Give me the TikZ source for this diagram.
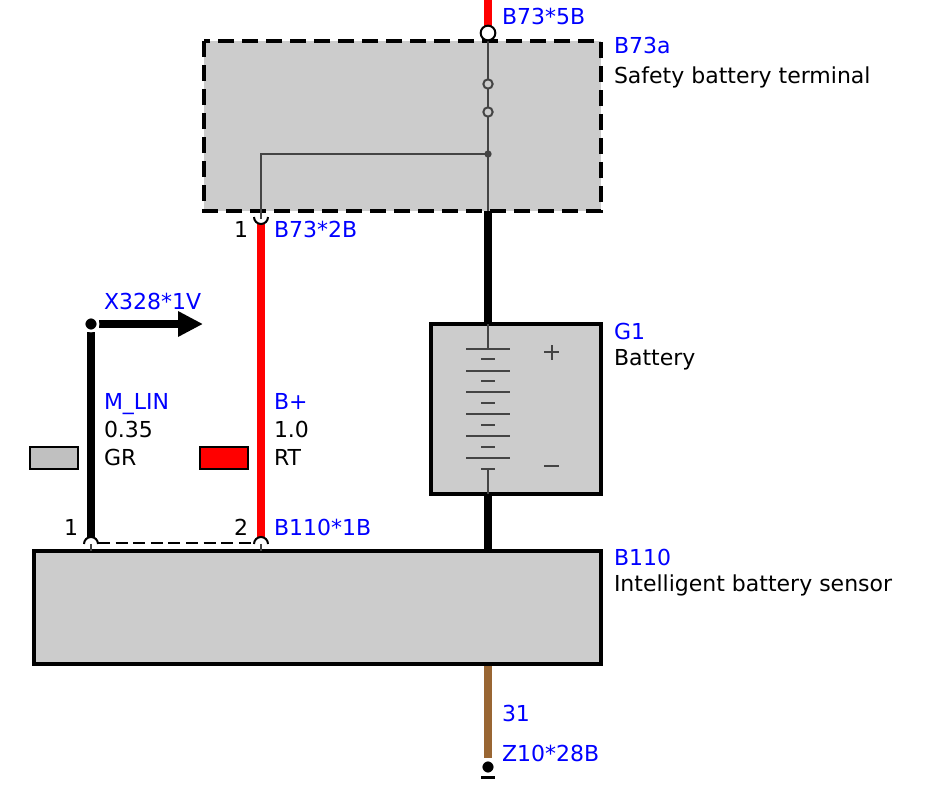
\documentclass[tikz,border=0pt]{standalone}
\usepackage{fontspec}
\setmainfont{DejaVu Sans}
\usetikzlibrary{arrows.meta}
\definecolor{boxgray}{HTML}{CCCCCC}
\definecolor{inner}{HTML}{444444}
\definecolor{brownwire}{HTML}{996633}
\definecolor{swgray}{HTML}{C0C0C0}
\definecolor{lblue}{HTML}{0000FF}
\tikzset{
  x=0.75pt,y=-0.75pt,
  wirew/.style={line width=6pt},
  thin inner/.style={draw=inner,line width=1.5pt},
  hair/.style={draw=inner,line width=1.2pt},
  lbl/.style={anchor=base west,inner sep=0pt,outer sep=0pt,font=\fontsize{16.5pt}{19pt}\selectfont,text=black},
  blbl/.style={lbl,text=lblue},
  pt/.style={coordinate},
  unit/.style={fill=boxgray,draw=black,line width=3pt},
  swatch/.style={draw=black,line width=1.5pt},
  plate/.style={draw=inner,line width=1.5pt},
  smallcirc/.style={circle,draw=inner,line width=1.5pt,fill=boxgray,minimum size=7pt,inner sep=0pt},
  dotn/.style={circle,fill=black,draw=white,line width=2pt,minimum size=10.5pt,inner sep=0pt},
}
\begin{document}
\begin{tikzpicture}
\useasboundingbox (0,0) rectangle (925,785);
\fill[white] (0,0) rectangle (925,785);

% B73a box
\draw[fill=boxgray,draw=none] (204,41) rectangle (601,211);
\draw[draw=black,line width=3pt,dash pattern=on 12pt off 6pt] (204,41) rectangle (601,211);
% coordinates
\node[pt] (topend) at (488,0) {};
\node[pt] (topconn) at (488,33) {};
\node[pt] (boxbot) at (488,211) {};
\node[pt] (battop) at (488,324) {};
\node[pt] (batbot) at (488,494) {};
\node[pt] (senstop) at (488,551) {};
\node[pt] (sensbot) at (488,664) {};
\node[pt] (brownend) at (488,758) {};
\node[pt] (junction) at (488,154) {};
\node[pt] (corner) at (261,154) {};
\node[pt] (b2b) at (261,219) {};
\node[pt] (redtop) at (261,224) {};
\node[pt] (redbot) at (261,537) {};
\node[pt] (blacktop) at (91,332) {};
\node[pt] (blackbot) at (91,537) {};
\node[pt] (arrowstart) at (99,324) {};
\node[pt] (arrowend) at (203,324) {};
\node[pt] (dashl) at (98,543) {};
\node[pt] (dashr) at (254,543) {};
\node[pt] (tick1a) at (91,544) {};
\node[pt] (tick1b) at (91,551) {};
\node[pt] (tick2a) at (261,544) {};
\node[pt] (tick2b) at (261,551) {};
\node[pt] (plate1) at (488,349) {};
\node[pt] (plate12) at (488,469) {};

% wires
\draw[red,wirew,line width=6.6pt] (topend) -- (488,26);
\draw[black,wirew] (boxbot) -- (battop);
\draw[black,wirew] (batbot) -- (senstop);
\draw[brownwire,wirew] (sensbot) -- (brownend);
\draw[red,wirew] (redtop) -- (redbot);
\draw[black,wirew] (blacktop) -- (blackbot);
\draw[black,wirew,-{Triangle[length=18.75pt,width=18pt]}] (arrowstart) -- (arrowend);

% inside B73a
\draw[thin inner] (topconn) -- (boxbot);
\draw[hair] (junction) -- (corner) -- (b2b);
\node[smallcirc] (sw1) at (488,84) {};
\node[smallcirc] (sw2) at (488,112) {};
\node[circle,fill=inner,minimum size=5.5pt,inner sep=0pt] (jdot) at (junction) {};
\node[circle,draw=black,fill=white,line width=1.5pt,minimum size=11pt,inner sep=0pt] (c5b) at (topconn) {};

% battery
\draw[unit] (431,324) rectangle (601,494);
\draw[thin inner] (battop) -- (plate1);
\draw[thin inner] (plate12) -- (batbot);
\foreach \y in {349,371,392,414,436,458} \draw[plate] (466,\y) -- (510,\y);
\foreach \y in {359,381,403,425,447} \draw[plate] (481,\y) -- (495,\y);
\draw[draw=inner,line width=2.2pt] (481,469) -- (495,469);
\draw[plate] (544,352) -- (559,352) (551.5,345) -- (551.5,360);
\draw[plate] (544,466) -- (559,466);

% sensor
\draw[unit] (34,551) rectangle (601,664);
\draw[draw=black,line width=1.5pt,dash pattern=on 9pt off 4.2pt] (dashl) -- (dashr);
\draw[thin inner] (tick1a) -- (tick1b);
\draw[thin inner] (tick2a) -- (tick2b);

% connector arcs
\draw[black,line width=1.5pt] (254,217) arc[start angle=180,end angle=0,radius=7];
\draw[black,line width=1.5pt] (84,544) arc[start angle=180,end angle=360,radius=7];
\draw[black,line width=1.5pt] (254,544) arc[start angle=180,end angle=360,radius=7];

% end dots
\node[dotn] (x328) at (91,324) {};
\node[dotn] (z10) at (488,767) {};
\draw[black,line width=2.4pt] (481,777.5) -- (495,777.5);

% swatches
\draw[swatch,fill=swgray] (30,447) rectangle (78,469);
\draw[swatch,fill=red] (200,447) rectangle (248,469);

% labels
\node[blbl] (t1) at (502,25) {B73*5B};
\node[blbl] (t2) at (614,53) {B73a};
\node[lbl] (t3) at (614,83) {Safety battery terminal};
\node[lbl] (t4) at (234,237) {1};
\node[blbl] (t5) at (274,237) {B73*2B};
\node[blbl] (t6) at (104,309) {X328*1V};
\node[blbl] (t7) at (614,339) {G1};
\node[lbl] (t8) at (614,365) {Battery};
\node[blbl] (t9) at (104,409) {M\_LIN};
\node[lbl] (t10) at (104,437) {0.35};
\node[lbl] (t11) at (104,465) {GR};
\node[blbl] (t12) at (274,409) {B+};
\node[lbl] (t13) at (274,437) {1.0};
\node[lbl] (t14) at (274,465) {RT};
\node[lbl] (t15) at (64,535) {1};
\node[lbl] (t16) at (234,535) {2};
\node[blbl] (t17) at (274,535) {B110*1B};
\node[blbl] (t18) at (614,565) {B110};
\node[lbl] (t19) at (614,591) {Intelligent battery sensor};
\node[blbl] (t20) at (502,721) {31};
\node[blbl] (t21) at (502,761) {Z10*28B};
\end{tikzpicture}
\end{document}
